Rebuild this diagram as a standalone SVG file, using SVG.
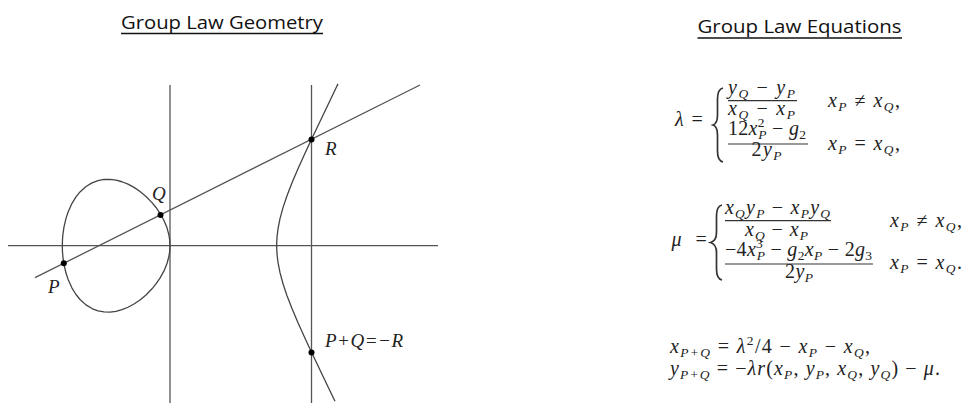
<svg xmlns="http://www.w3.org/2000/svg" width="968" height="403" viewBox="0 0 968 403">
<style>
.ttl{font-family:"Open Sans","Liberation Sans",sans-serif;font-size:18px;fill:#111}
.ul{stroke:#111;stroke-width:1.4}
.ln{stroke:#555;stroke-width:1.3;fill:none}
.cv{stroke:#444;stroke-width:1.3;fill:none;stroke-linejoin:round}
.dot{fill:#000}
.lbl{font-family:"Liberation Serif",serif;font-style:italic;font-size:19px;fill:#222}
.mt{font-family:"Liberation Serif",serif;font-size:20px;fill:#222}
.it{font-style:italic}
.sb{font-size:13.5px}
.bar{stroke:#333;stroke-width:1.2}
.br{stroke:#333;stroke-width:1.7;fill:none}
</style>
<rect width="968" height="403" fill="#fff"/>
<g id="titles">
<text class="ttl" x="121" y="29.3" textLength="202" lengthAdjust="spacingAndGlyphs">Group Law Geometry</text>
<line class="ul" x1="121" y1="33.5" x2="323" y2="33.5"/>
<text class="ttl" x="697.5" y="33.3" textLength="204" lengthAdjust="spacingAndGlyphs">Group Law Equations</text>
<line class="ul" x1="697.5" y1="38" x2="902" y2="38"/>
</g>
<g id="connectors">
<line class="ln" x1="8" y1="245.7" x2="438" y2="245.7"/>
<line class="ln" x1="170" y1="85" x2="170" y2="403"/>
<line class="ln" x1="311.5" y1="85" x2="311.5" y2="403"/>
<line class="ln" x1="35" y1="277.7" x2="420" y2="85"/>
</g>
<g id="curve">
<path class="cv" d="M62.3,245.7 L62.5,239.18 63,233.55 64,226.9 66,218.35 68,212.24 72,203.33 76,196.87 80,191.93 86,186.52 92,182.87 98,180.6 104,179.48 110,179.35 116,180.13 122,181.75 128,184.17 134,187.41 140,191.48 146,196.48 152,202.6 156,207.48 160,213.27 164,220.51 167,227.87 169,235.4 169.7,240.06 170,245.7 169.7,251.34 169,256 167,263.53 164,270.89 160,278.13 156,283.92 152,288.8 146,294.92 140,299.92 134,303.99 128,307.23 122,309.65 116,311.27 110,312.05 104,311.92 98,310.8 92,308.53 86,304.88 80,299.47 76,294.53 72,288.07 68,279.16 66,273.05 64,264.5 63,257.85 62.5,252.22 Z"/>
<path class="cv" d="M338,83.85 L336,88.04 328,104.74 320,121.43 312,138.24 305,153.21 298,168.7 292,182.81 287,195.72 283,207.63 280,218.7 278,228.98 277.2,235.39 277,237.73 276.8,241.1 276.7,245.7 276.8,250.3 277,253.67 277.2,256.01 278,262.42 280,272.7 283,283.77 287,295.68 292,308.59 298,322.7 305,338.19 312,353.16 320,369.97 328,386.66 335,401.27"/>
</g>
<g id="point-P">
<circle class="dot" cx="63.8" cy="263.3" r="3"/>
<text class="lbl" x="48" y="293">P</text>
</g>
<g id="point-Q">
<circle class="dot" cx="160.5" cy="214.9" r="3"/>
<text class="lbl" x="152" y="199.5">Q</text>
</g>
<g id="point-R">
<circle class="dot" cx="311.5" cy="139.5" r="3"/>
<text class="lbl" x="325" y="155">R</text>
</g>
<g id="point-PQ">
<circle class="dot" cx="311.5" cy="352.5" r="3"/>
<text class="lbl" x="325" y="347" textLength="78">P+Q=−R</text>
</g>
<g id="lambda-eq">
<text class="mt it" x="675" y="126">λ</text>
<text class="mt" x="691.5" y="126">=</text>
<path class="br" d="M723,88 C718.5,89 717.5,93 717.5,99 L717.5,115 C717.5,121 716,124 713,125 C716,126 717.5,129 717.5,135 L717.5,151 C717.5,157 718.5,161 723,162"/>
<text class="mt" x="728" y="94" textLength="67"><tspan class="it">y</tspan><tspan class="sb it" dy="4">Q</tspan><tspan dy="-4"> − </tspan><tspan class="it">y</tspan><tspan class="sb it" dy="4">P</tspan></text>
<line class="bar" x1="728" y1="100.7" x2="797" y2="100.7"/>
<text class="mt" x="728" y="114.5" textLength="67"><tspan class="it">x</tspan><tspan class="sb it" dy="4">Q</tspan><tspan dy="-4"> − </tspan><tspan class="it">x</tspan><tspan class="sb it" dy="4">P</tspan></text>
<text class="mt" x="728" y="135" textLength="78">12<tspan class="it">x</tspan><tspan class="sb" dy="-8">2</tspan><tspan class="sb it" dx="-6.5" dy="12">P</tspan><tspan dy="-4"> − </tspan><tspan class="it">g</tspan><tspan class="sb" dy="4">2</tspan></text>
<line class="bar" x1="728" y1="144" x2="808" y2="144"/>
<text class="mt" x="751.5" y="156" textLength="30">2<tspan class="it">y</tspan><tspan class="sb it" dy="4">P</tspan></text>
<text class="mt" x="828" y="107.3" textLength="72"><tspan class="it">x</tspan><tspan class="sb it" dy="4">P</tspan><tspan dy="-4"> ≠ </tspan><tspan class="it">x</tspan><tspan class="sb it" dy="4">Q</tspan><tspan dy="-4">,</tspan></text>
<text class="mt" x="828" y="150" textLength="72"><tspan class="it">x</tspan><tspan class="sb it" dy="4">P</tspan><tspan dy="-4"> = </tspan><tspan class="it">x</tspan><tspan class="sb it" dy="4">Q</tspan><tspan dy="-4">,</tspan></text>
</g>
<g id="mu-eq">
<text class="mt it" x="671.5" y="246">μ</text>
<text class="mt" x="695.5" y="246">=</text>
<path class="br" d="M722,205 C717.5,206 716.5,210 716.5,216 L716.5,232.5 C716.5,238.5 714,241.5 710.5,242.5 C714,243.5 716.5,246.5 716.5,252.5 L716.5,269 C716.5,275 717.5,279 722,280"/>
<text class="mt" x="725" y="214" textLength="105"><tspan class="it">x</tspan><tspan class="sb it" dy="4">Q</tspan><tspan class="it" dy="-4">y</tspan><tspan class="sb it" dy="4">P</tspan><tspan dy="-4"> − </tspan><tspan class="it">x</tspan><tspan class="sb it" dy="4">P</tspan><tspan class="it" dy="-4">y</tspan><tspan class="sb it" dy="4">Q</tspan></text>
<line class="bar" x1="725" y1="220.7" x2="831" y2="220.7"/>
<text class="mt" x="745" y="235.5" textLength="63"><tspan class="it">x</tspan><tspan class="sb it" dy="4">Q</tspan><tspan dy="-4"> − </tspan><tspan class="it">x</tspan><tspan class="sb it" dy="4">P</tspan></text>
<text class="mt" x="725" y="256" textLength="147">−4<tspan class="it">x</tspan><tspan class="sb" dy="-8">3</tspan><tspan class="sb it" dx="-6.5" dy="12">P</tspan><tspan dy="-4"> − </tspan><tspan class="it">g</tspan><tspan class="sb" dy="4">2</tspan><tspan class="it" dy="-4">x</tspan><tspan class="sb it" dy="4">P</tspan><tspan dy="-4"> − 2</tspan><tspan class="it">g</tspan><tspan class="sb" dy="4">3</tspan></text>
<line class="bar" x1="725" y1="264" x2="873" y2="264"/>
<text class="mt" x="785" y="278" textLength="28">2<tspan class="it">y</tspan><tspan class="sb it" dy="4">P</tspan></text>
<text class="mt" x="890" y="227.3" textLength="72"><tspan class="it">x</tspan><tspan class="sb it" dy="4">P</tspan><tspan dy="-4"> ≠ </tspan><tspan class="it">x</tspan><tspan class="sb it" dy="4">Q</tspan><tspan dy="-4">,</tspan></text>
<text class="mt" x="890" y="269" textLength="72"><tspan class="it">x</tspan><tspan class="sb it" dy="4">P</tspan><tspan dy="-4"> = </tspan><tspan class="it">x</tspan><tspan class="sb it" dy="4">Q</tspan><tspan dy="-4">.</tspan></text>
</g>
<g id="sum-eq">
<text class="mt" x="670" y="353.3" textLength="200"><tspan class="it">x</tspan><tspan class="sb it" dy="4">P+Q</tspan><tspan dy="-4"> = </tspan><tspan class="it">λ</tspan><tspan class="sb" dy="-8">2</tspan><tspan dy="8">/4 − </tspan><tspan class="it">x</tspan><tspan class="sb it" dy="4">P</tspan><tspan dy="-4"> − </tspan><tspan class="it">x</tspan><tspan class="sb it" dy="4">Q</tspan><tspan dy="-4">,</tspan></text>
<text class="mt" x="670" y="375" textLength="270"><tspan class="it">y</tspan><tspan class="sb it" dy="4">P+Q</tspan><tspan dy="-4"> = −</tspan><tspan class="it">λr</tspan>(<tspan class="it">x</tspan><tspan class="sb it" dy="4">P</tspan><tspan dy="-4">, </tspan><tspan class="it">y</tspan><tspan class="sb it" dy="4">P</tspan><tspan dy="-4">, </tspan><tspan class="it">x</tspan><tspan class="sb it" dy="4">Q</tspan><tspan dy="-4">, </tspan><tspan class="it">y</tspan><tspan class="sb it" dy="4">Q</tspan><tspan dy="-4">) − </tspan><tspan class="it">μ</tspan>.</text>
</g>
</svg>
